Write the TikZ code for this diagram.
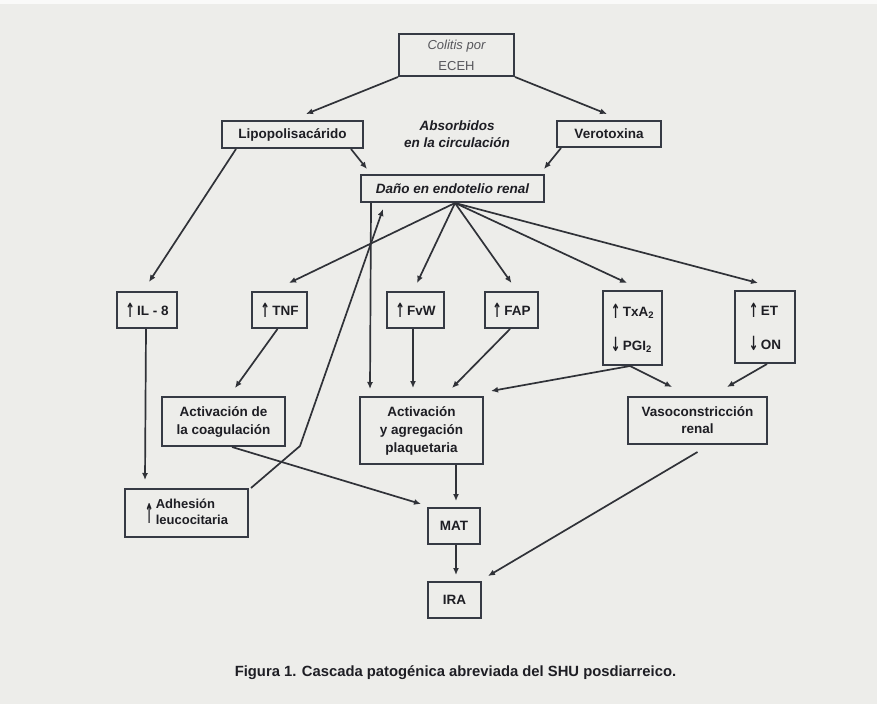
\documentclass[tikz,border=0pt]{standalone}
\usepackage{graphicx}
\usepackage{fontspec}
\setmainfont{Liberation Sans}
\newfontfamily\djv{DejaVu Sans}
\usetikzlibrary{arrows.meta}
\definecolor{bg}{HTML}{EDEDEA}
\definecolor{bx}{HTML}{363A44}
\definecolor{ln}{HTML}{303238}
\definecolor{tx}{HTML}{1E1E24}
\newcommand{\upar}{{\djv\bfseries\raisebox{-2pt}{\scalebox{0.85}[1.45]{↑}}}\,}
\newcommand{\dnar}{{\djv\bfseries\raisebox{-1pt}{\scalebox{0.85}[1.45]{↓}}}\,}
\newcommand{\bigup}{{\djv\bfseries\raisebox{-7pt}{\scalebox{0.8}[2.1]{↑}}}}
\begin{document}
\begin{tikzpicture}[x=1pt,y=-1pt,
  box/.style={draw=bx,line width=2pt,inner sep=0pt,align=center,text=tx,
    font=\fontsize{13.5}{18}\selectfont\bfseries},
  arr/.style={draw=ln,line width=1.7pt,-{Latex[length=7pt,width=6pt]}}]
\fill[bg] (0,0) rectangle (877,704);
\fill[white!70!bg] (0,0) rectangle (877,4);
\useasboundingbox (0,0) rectangle (877,704);

% nodes
\node[box,minimum width=115pt,minimum height=42pt,text=tx!75,
  font=\fontsize{13}{21}\selectfont] (col) at (456.5,55) {\itshape Colitis por\\ECEH};
\node[box,minimum width=141pt,minimum height=27pt] (lipo) at (292.5,134.5) {Lipopolisacárido};
\node[box,minimum width=104pt,minimum height=26pt] (vero) at (609,134) {Verotoxina};
\node[align=center,text=tx,font=\fontsize{13.5}{17}\selectfont\bfseries\itshape] (abs) at (457,134.5) {Absorbidos\\en la circulación};
\node[box,minimum width=183pt,minimum height=27pt,font=\fontsize{13.5}{18}\selectfont\bfseries\itshape] (dano) at (452.5,188.5) {Daño en endotelio renal};

\node[box,minimum width=60pt,minimum height=36pt] (il8) at (147,310) {\upar IL - 8};
\node[box,minimum width=55pt,minimum height=36pt] (tnf) at (279.5,310) {\upar TNF};
\node[box,minimum width=57pt,minimum height=36pt] (fvw) at (415.5,310) {\upar FvW};
\node[box,minimum width=53pt,minimum height=36pt] (fap) at (511.5,310) {\upar FAP};
\node[box,minimum width=59pt,minimum height=74pt,align=left,font=\fontsize{13.5}{34}\selectfont\bfseries] (txa) at (632.5,328) {\upar TxA\textsubscript{2}\\\dnar PGI\textsubscript{2}};
\node[box,minimum width=60pt,minimum height=72pt,align=left,font=\fontsize{13.5}{34}\selectfont\bfseries] (et) at (765,327) {\upar ET\\\dnar ON};

\node[box,minimum width=123pt,minimum height=49pt] (coag) at (223.5,421.5) {Activación de\\la coagulación};
\node[box,minimum width=123pt,minimum height=67pt] (plaq) at (421.5,430.5) {Activación\\y agregación\\plaquetaria};
\node[box,minimum width=139pt,minimum height=47pt,font=\fontsize{13.5}{17}\selectfont\bfseries] (vaso) at (697.5,420.5) {Vasoconstricción\\renal};
\node[box,minimum width=123pt,minimum height=48pt,font=\fontsize{13}{16}\selectfont\bfseries] (adh) at (186.5,513) {\bigup\,\begin{tabular}[c]{@{}l@{}}Adhesión\\leucocitaria\end{tabular}};
\node[box,minimum width=52pt,minimum height=36pt] (mat) at (454,526) {MAT};
\node[box,minimum width=53pt,minimum height=36pt] (ira) at (454.5,600) {IRA};

\node[text=tx,font=\fontsize{14.8}{18}\selectfont\bfseries] (cap) at (455.5,673) {Figura 1. Cascada patogénica abreviada del SHU posdiarreico.};

% connectors
\draw[arr] (col.south west) -- ([xshift=13.5pt,yshift=6pt]lipo.north);
\draw[arr] (col.south east) -- ([xshift=-2pt,yshift=6pt]vero.north);
\draw[arr] ([xshift=15pt]lipo.south west) -- ([xshift=2pt,yshift=9pt]il8.north);
\draw[arr] ([xshift=-13pt]lipo.south east) -- ([xshift=7pt,yshift=5pt]dano.north west);
\draw[arr] ([xshift=5pt]vero.south west) -- ([xshift=-1pt,yshift=5pt]dano.north east);

\draw[arr] ([xshift=2.5pt]dano.south) -- ([xshift=9.5pt,yshift=8pt]tnf.north);
\draw[arr] ([xshift=2.5pt]dano.south) -- ([xshift=1.5pt,yshift=8pt]fvw.north);
\draw[arr] ([xshift=2.5pt]dano.south) -- ([yshift=8pt]fap.north);
\draw[arr] ([xshift=2.5pt]dano.south) -- ([xshift=-5.5pt,yshift=7pt]txa.north);
\draw[arr] ([xshift=2.5pt]dano.south) -- ([xshift=-7pt,yshift=7pt]et.north);
\draw[arr] ([xshift=11pt]dano.south west) -- ([xshift=11pt,yshift=7pt]plaq.north west);

\draw[arr] ([xshift=-1pt]il8.south) -- ([xshift=21pt,yshift=8pt]adh.north west);
\coordinate (bend) at (300,446);
\draw[arr] ([xshift=2pt]adh.north east) -- (bend) -- ([xshift=23pt,yshift=-6pt]dano.south west);

\draw[arr] ([xshift=-2pt]tnf.south) -- ([xshift=11.5pt,yshift=8pt]coag.north);
\draw[arr] ([xshift=-2.5pt]fvw.south) -- ([xshift=-8.5pt,yshift=8pt]plaq.north);
\draw[arr] ([xshift=-1.5pt]fap.south) -- ([xshift=30.5pt,yshift=8pt]plaq.north);
\draw[arr] ([xshift=-2.5pt]txa.south) -- ([xshift=7pt,yshift=5pt]plaq.north east);
\draw[arr] ([xshift=-2.5pt]txa.south) -- ([xshift=-25.5pt,yshift=9pt]vaso.north);
\draw[arr] ([xshift=2pt]et.south) -- ([xshift=29.5pt,yshift=9pt]vaso.north);

\draw[arr] ([xshift=8.5pt]coag.south) -- ([xshift=-6pt,yshift=3pt]mat.north west);
\draw[arr] ([xshift=2pt]mat.north |- plaq.south) -- ([xshift=2pt,yshift=6pt]mat.north);
\draw[arr] ([xshift=2pt]mat.south) -- ([xshift=1.5pt,yshift=6pt]ira.north);
\draw[arr] ([yshift=-7pt]vaso.south) -- ([xshift=6pt,yshift=5pt]ira.north east);
\end{tikzpicture}
\end{document}
